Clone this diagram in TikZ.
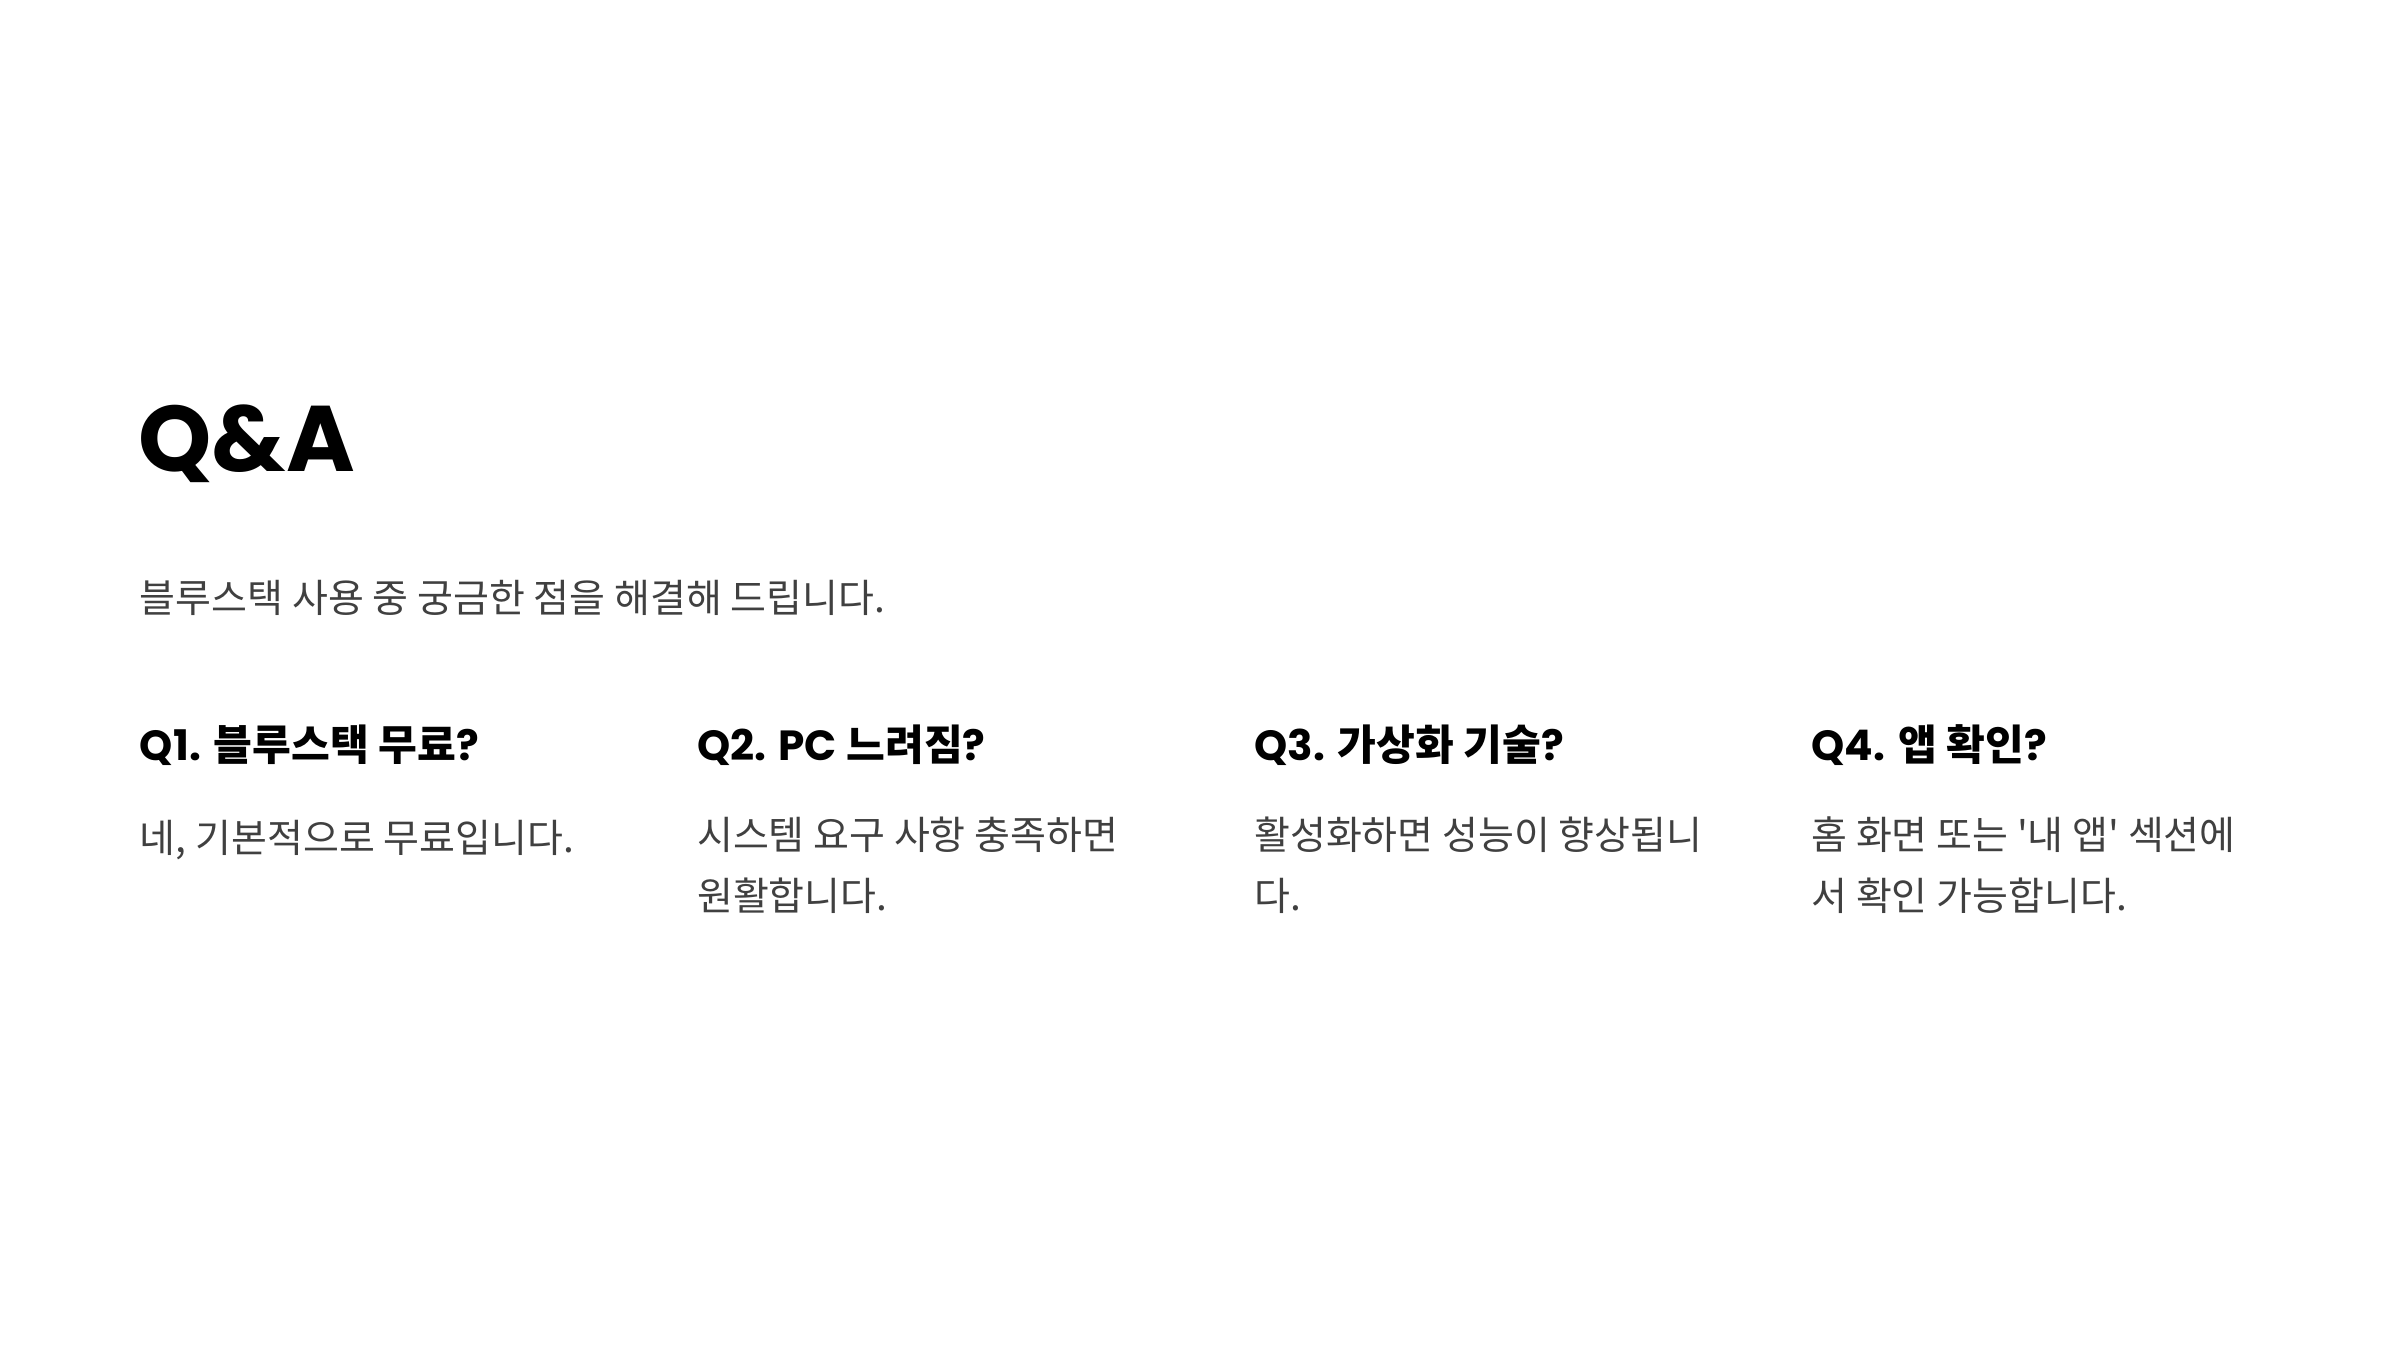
\documentclass[tikz,border=0pt]{standalone}
\usepackage{fontspec}
\setmainfont{Noto Sans CJK KR}
\newfontfamily\lat{Poppins}
\newfontfamily\kr{Noto Sans CJK KR}
\begin{document}
\begin{tikzpicture}[x=0.015306cm,y=-0.015306cm,
  title/.style={anchor=base west,inner sep=0,font=\lat\bfseries\fontsize{26.5}{32}\selectfont},
  sub/.style={anchor=base west,inner sep=0,text=black!75,font=\kr\fontsize{11.1}{16}\selectfont},
  qh/.style={anchor=base west,inner sep=0,font=\kr\bfseries\fontsize{12}{16}\selectfont},
  body/.style={anchor=base west,inner sep=0,align=left,text=black!75,font=\kr\fontsize{11.1}{17.3}\selectfont}]
\useasboundingbox (0,0) rectangle (1568,882);
\node[title] (t) at (90,308) {Q\&A};
\node[sub] (s) at (91,400) {블루스택 사용 중 궁금한 점을 해결해 드립니다.};
\node[qh] (q1) at (91,497) {{\lat Q1.} 블루스택 무료{\lat ?}};
\node[qh] (q2) at (455,497) {{\lat Q2. PC} 느려짐{\lat ?}};
\node[qh] (q3) at (819,497) {{\lat Q3.} 가상화 기술{\lat ?}};
\node[qh] (q4) at (1183,497) {{\lat Q4.} 앱 확인{\lat ?}};
\node[body] (b1) at (91,557) {네, 기본적으로 무료입니다.};
\node[body] (b2) at (455,595) {시스템 요구 사항 충족하면\\원활합니다.};
\node[body] (b3) at (819,595) {활성화하면 성능이 향상됩니\\다.};
\node[body] (b4) at (1183,595) {홈 화면 또는 '내 앱' 섹션에\\서 확인 가능합니다.};
\end{tikzpicture}
\end{document}
